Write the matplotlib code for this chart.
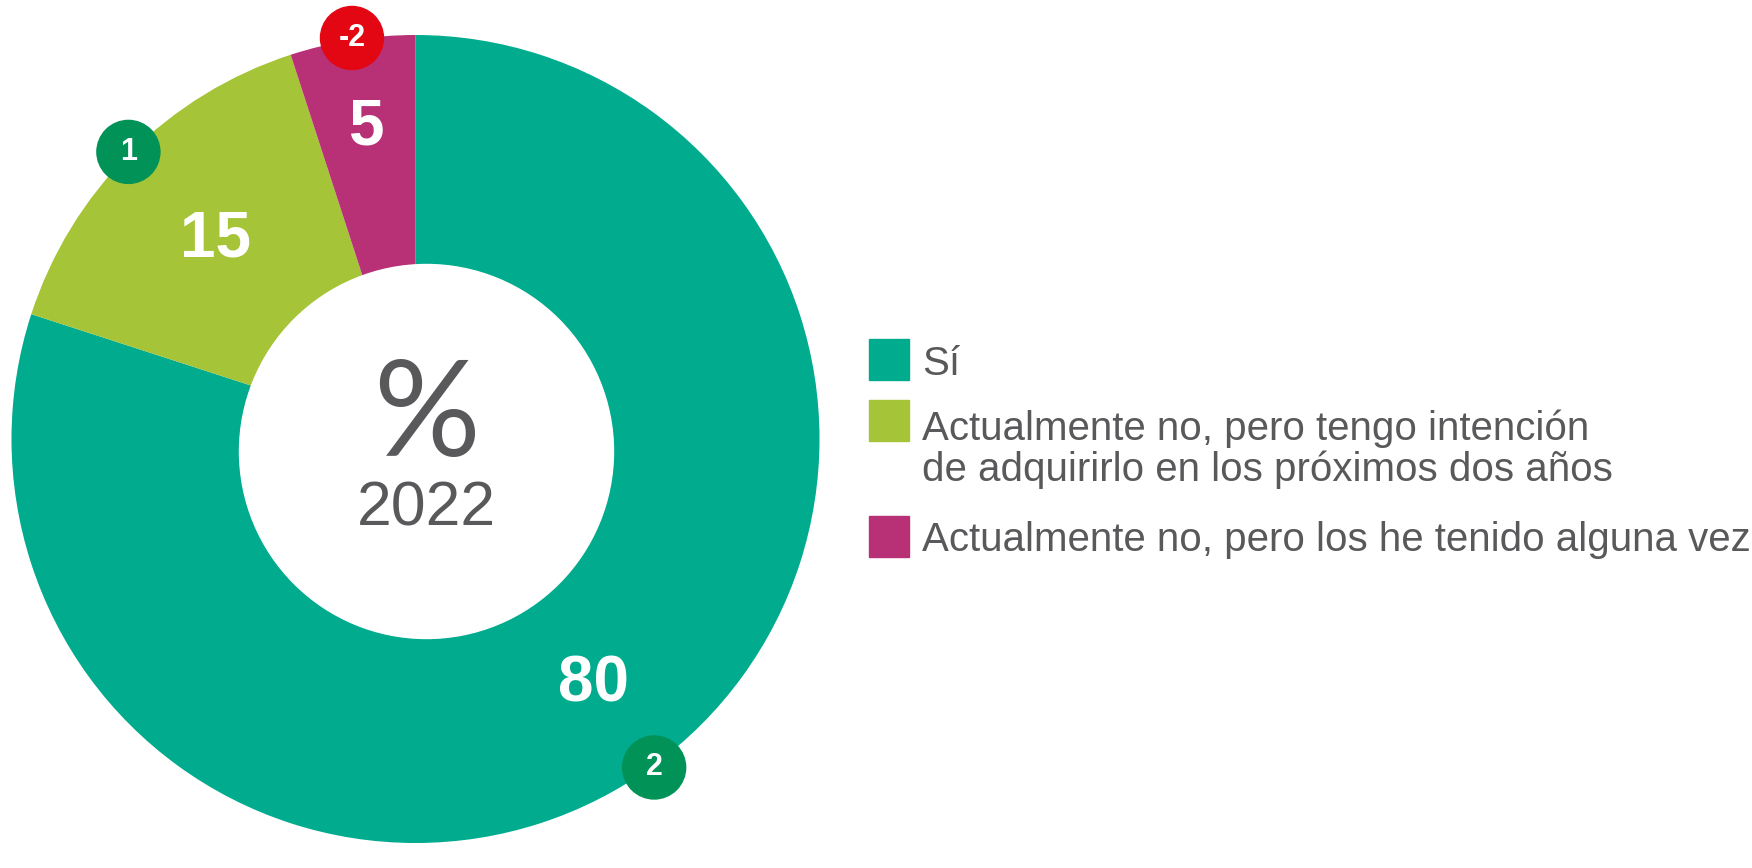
import matplotlib
matplotlib.use("Agg")
import matplotlib.pyplot as plt
import numpy as np
from matplotlib.patches import Circle, Rectangle

plt.rcParams["font.family"] = ["Liberation Sans", "DejaVu Sans"]

# data
labels = ["Sí",
          "Actualmente no, pero tengo intención\nde adquirirlo en los próximos dos años",
          "Actualmente no, pero los he tenido alguna vez"]
values = [80, 15, 5]
changes = [2, 1, -2]
colors = ["#00AB8E", "#A5C437", "#B83177"]
year = "2022"

W, H = 1752, 868
fig = plt.figure(figsize=(W / 100, H / 100), dpi=100)
ax = fig.add_axes([0, 0, 1, 1])

cx, cy, R = 415.5, 429, 404
ax.pie(values, colors=colors, startangle=90, counterclock=False,
       radius=R, center=(cx, cy), wedgeprops=dict(linewidth=0))

# donut hole (slightly off-centre in the original)
ax.add_patch(Circle((426.5, 416.5), 187, color="white", zorder=3))
ax.text(427, H - 456, "%", fontsize=96, color="#59595B", family="Lato",
        ha="center", va="baseline", zorder=4)
ax.text(426, H - 525, year, fontsize=45, color="#59595B",
        ha="center", va="baseline", zorder=4)

# value labels and change badges
total = sum(values)
before = np.cumsum([0] + values[:-1])
label_r = [0.75, 0.70, 0.78]
for v, b, d, lr in zip(values, before, changes, label_r):
    ang = np.deg2rad(90 - 360 * (b + v / 2) / total)
    ax.text(cx + lr * R * np.cos(ang), cy + lr * R * np.sin(ang), str(v),
            fontsize=46, fontweight="bold", color="white",
            ha="center", va="center", zorder=4)
    bx, by = cx + 1.005 * R * np.cos(ang), cy + 1.005 * R * np.sin(ang)
    ax.add_patch(Circle((bx, by), 31.5, color="#E30613" if d < 0 else "#009257", zorder=5))
    ax.text(bx, by, str(d), fontsize=22, fontweight="bold", color="white",
            ha="center", va="center", zorder=6)

# legend
box_y = [H - 380, H - 441, H - 557]
text_y = [H - 364, H - 410, H - 540]
for i, lab in enumerate(labels):
    ax.add_patch(Rectangle((869, box_y[i]), 40, 41, color=colors[i], zorder=2))
    ax.text(922, text_y[i], lab, fontsize=29, color="#59595B",
            ha="left", va="center" if "\n" not in lab else "top",
            linespacing=1.08)

ax.set_xlim(0, W)
ax.set_ylim(0, H)
ax.set_aspect("equal")
ax.axis("off")
fig.savefig("out.png", dpi=100)
